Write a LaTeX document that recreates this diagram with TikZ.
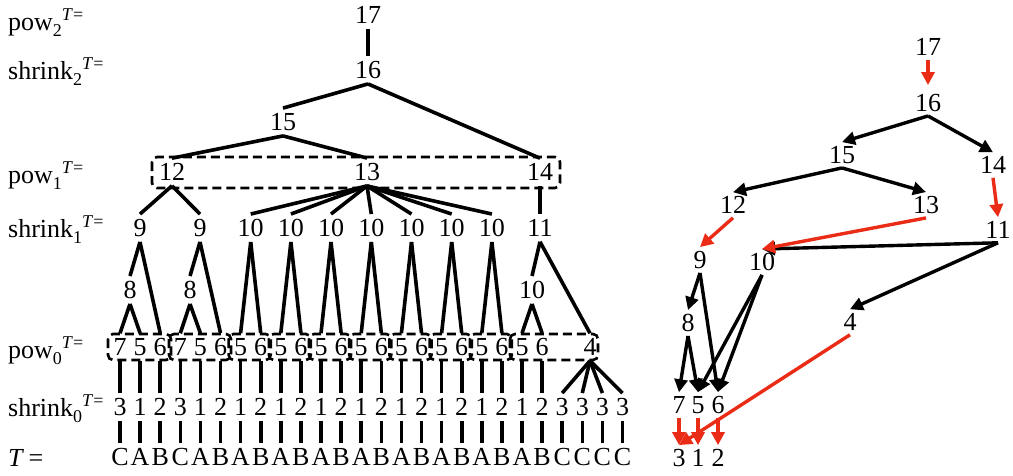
\documentclass[tikz,border=0pt]{standalone}
\usepackage{fontspec}
\setmainfont{Liberation Serif}
\usetikzlibrary{arrows.meta}
\definecolor{arred}{RGB}{234,44,22}
\newcommand\bigf{\fontsize{26}{30}\selectfont}
\newcommand\subsup[1]{\raisebox{-6pt}{\fontsize{18}{20}\selectfont #1}\raisebox{10pt}{\fontsize{18}{20}\selectfont\textit{T}=}}
\begin{document}
\begin{tikzpicture}[x=1pt,y=-1pt,
  num/.style={inner sep=5pt,font=\bigf},
  rnum/.style={inner sep=4pt,font=\bigf},
  rowlbl/.style={anchor=base west,inner sep=0pt,font=\bigf},
  edge/.style={line width=3.6pt},
  dbox/.style={draw,line width=2.6pt,dash pattern=on 9pt off 5pt,rounded corners=5pt},
  arr/.style={line width=3.4pt,-{Triangle[length=13pt,width=13pt]}},
  rarr/.style={arr,draw=arred,color=arred}]
\useasboundingbox (0,0) rectangle (1013,475);
% row labels
\node[rowlbl] (L1) at (8,30) {pow\subsup{2}};
\node[rowlbl] (L2) at (8,79) {shrink\subsup{2}};
\node[rowlbl] (L3) at (8,183) {pow\subsup{1}};
\node[rowlbl] (L4) at (8,237) {shrink\subsup{1}};
\node[rowlbl] (L5) at (8,358) {pow\subsup{0}};
\node[rowlbl] (L6) at (8,416) {shrink\subsup{0}};
\node[rowlbl] (L7) at (8,466) {\textit{T}\,=};
% left tree
\node[num] (n17) at (368,15) {17};
\node[num] (n16) at (368,70) {16};
\node[num] (n15) at (283,122) {15};
\node[num] (n12) at (172,172) {12};
\node[num] (n13) at (367,172) {13};
\node[num] (n14) at (540,172) {14};
\node[num] (a1) at (140,228) {9};
\node[num] (a2) at (200,228) {9};
\foreach \k/\x in {1/250.7,2/290.9,3/331,4/371.3,5/411.5,6/451.7,7/491.9}
  \node[num] (b\k) at (\x,228) {10};
\node[num] (n11) at (540,228) {11};
\node[num] (e1) at (130,290) {8};
\node[num] (e2) at (190,290) {8};
\node[num] (e3) at (532,290) {10};
\foreach \i/\d in {0/7,1/5,2/6,3/7,4/5,5/6,6/5,7/6,8/5,9/6,10/5,11/6,12/5,13/6,14/5,15/6,16/5,17/6,18/5,19/6,20/5,21/6}
  \node[num] (p\i) at ({120+20.1*\i},347) {\d};
\node[num] (pf) at (590,347) {4};
\foreach \i/\d in {0/3,1/1,2/2,3/3,4/1,5/2,6/1,7/2,8/1,9/2,10/1,11/2,12/1,13/2,14/1,15/2,16/1,17/2,18/1,19/2,20/1,21/2,22/3,23/3,24/3,25/3}
  \node[num] (s\i) at ({120+20.1*\i},407) {\d};
\foreach \i/\d in {0/C,1/A,2/B,3/C,4/A,5/B,6/A,7/B,8/A,9/B,10/A,11/B,12/A,13/B,14/A,15/B,16/A,17/B,18/A,19/B,20/A,21/B,22/C,23/C,24/C,25/C}
  \node[num] (t\i) at ({120+20.1*\i},457) {\d};
% dashed boxes
\draw[dbox] (152,157) rectangle (560,188);
\draw[dbox] (108,334) rectangle (171,360);
\draw[dbox] (169,334) rectangle (231,360);
\foreach \k in {0,...,6}
  \draw[dbox] ({120+20.1*(6+2*\k)-12},334) rectangle ({120+20.1*(7+2*\k)+10},360);
\draw[dbox] ({120+20.1*20-12},334) rectangle (598,360);
% left edges
\draw[edge] (n17.south) -- (n16.north);
\draw[edge] (n16.south) -- (n15.north);
\draw[edge] (n16.south) -- (n14.north);
\draw[edge] (n15.south) -- (n12.north);
\draw[edge] (n15.south) -- (n13.north);
\draw[edge] (n12.south) -- (a1.north);
\draw[edge] (n12.south) -- (a2.north);
\foreach \k in {1,...,7} \draw[edge] (n13.south) -- (b\k.north);
\draw[edge] (n14.south) -- (n11.north);
\draw[edge] (a1.south) -- (e1.north);
\draw[edge] (a1.south) -- (p2.north);
\draw[edge] (e1.south) -- (p0.north);
\draw[edge] (e1.south) -- (p1.north);
\draw[edge] (a2.south) -- (e2.north);
\draw[edge] (a2.south) -- (p5.north);
\draw[edge] (e2.south) -- (p3.north);
\draw[edge] (e2.south) -- (p4.north);
\foreach \k [evaluate=\k as \ia using int(4+2*\k), evaluate=\k as \ib using int(5+2*\k)] in {1,...,7} {
  \draw[edge] (b\k.south) -- (p\ia.north);
  \draw[edge] (b\k.south) -- (p\ib.north);
}
\draw[edge] (n11.south) -- (e3.north);
\draw[edge] (n11.south) -- (pf.north);
\draw[edge] (e3.south) -- (p20.north);
\draw[edge] (e3.south) -- (p21.north);
\foreach \i in {0,...,21} \draw[edge] (p\i.south) -- (s\i.north);
\foreach \i in {22,...,25} \draw[edge] (pf.south) -- (s\i.north);
\foreach \i in {0,...,25} \draw[edge] (s\i.south) -- (t\i.north);
% right tree
\node[rnum] (r17) at (928,47) {17};
\node[rnum] (r16) at (928,103) {16};
\node[rnum] (r15) at (842,155) {15};
\node[rnum] (r14) at (993,165) {14};
\node[rnum] (r12) at (733,205) {12};
\node[rnum] (r13) at (926,205) {13};
\node[rnum] (r11) at (998,230) {11};
\node[rnum] (r9) at (700,260) {9};
\node[rnum] (r10) at (762,262) {10};
\node[rnum] (r8) at (688,323) {8};
\node[rnum] (r4) at (850,322) {4};
\node[rnum] (r7) at (679,405) {7};
\node[rnum] (r5) at (698,405) {5};
\node[rnum] (r6) at (718,405) {6};
\node[rnum] (r3) at (679,458) {3};
\node[rnum] (r1) at (698,458) {1};
\node[rnum] (r2) at (718,458) {2};
\draw[rarr,shorten >=5pt] (r17.south) -- (r16.north);
\draw[arr] (r16.south) -- (r15.north);
\draw[arr] (r16.south) -- (r14.north);
\draw[arr] (r15.south) -- (r12.north);
\draw[arr] (r15.south) -- (r13.north);
\draw[rarr] (r14.south) -- (r11.north);
\draw[rarr] (r12.south) -- (r9.north);
\draw[arr] (r11.south) -- (r10.north);
\draw[rarr] (r13.south) -- (r10.north);
\draw[arr] (r11.south) -- (r4.north);
\draw[arr] (r9.south) -- (r8.north);
\draw[arr] (r9.south) -- (r6.north);
\draw[arr] (r10.south) -- (r5.north);
\draw[arr] (r10.south) -- (r6.north);
\draw[arr] (r8.south) -- (r7.north);
\draw[arr] (r8.south) -- (r5.north);
\draw[rarr] (r4.south) -- (r3.north);
\draw[rarr] (r7.south) -- (r3.north);
\draw[rarr] (r5.south) -- (r1.north);
\draw[rarr] (r6.south) -- (r2.north);
\end{tikzpicture}
\end{document}
